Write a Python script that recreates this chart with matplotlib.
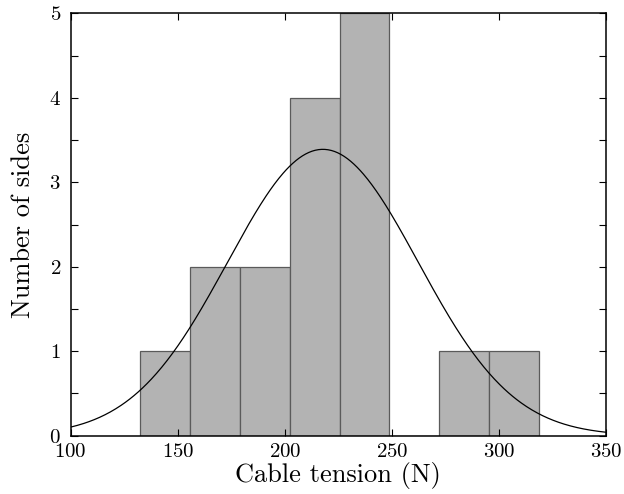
import numpy as np
import matplotlib
matplotlib.use("Agg")
import matplotlib.pyplot as plt

plt.rcParams['font.family'] = 'serif'
plt.rcParams['font.serif'] = ['cmr10']
plt.rcParams['axes.formatter.use_mathtext'] = True

# Histogram data
bin_edges = [132.4, 155.7, 179.0, 202.3, 225.6, 248.9, 272.2, 295.5, 318.8]
counts = [1, 2, 2, 4, 5, 0, 1, 1]

# Fitted normal curve parameters
fit_mean = 217.8
fit_sigma = 44.5
fit_peak = 3.39

x_ticks = [100, 150, 200, 250, 300, 350]
y_ticks = [0, 1, 2, 3, 4, 5]

fig = plt.figure(figsize=(6.24, 4.94), dpi=100)
ax = fig.add_axes([0.1133, 0.118, 0.8577, 0.855])

edges = np.array(bin_edges)
ax.bar(edges[:-1], counts, width=np.diff(edges), align='edge',
       color='#b3b3b3', edgecolor='#5a5a5a', linewidth=0.9, zorder=1)

xs = np.linspace(100, 350, 500)
ys = fit_peak * np.exp(-0.5 * ((xs - fit_mean) / fit_sigma) ** 2)
ax.plot(xs, ys, color='black', linewidth=0.9, zorder=2)

ax.set_xlim(100, 350)
ax.set_ylim(0, 5)
ax.set_xticks(x_ticks)
ax.set_yticks(y_ticks)
ax.set_yticks(np.arange(0, 5.01, 0.5), minor=True)
ax.tick_params(which='both', direction='in', top=True, right=True,
               labelsize=15, length=5, width=0.8)
ax.tick_params(axis='x', which='both', pad=5)
ax.tick_params(axis='y', which='both', pad=7)
for s in ax.spines.values():
    s.set_linewidth(1.1)

ax.set_xlabel('Cable tension (N)', fontsize=19, labelpad=1)
ax.set_ylabel('Number of sides', fontsize=19, labelpad=10)

fig.savefig('out.png', dpi=100)
